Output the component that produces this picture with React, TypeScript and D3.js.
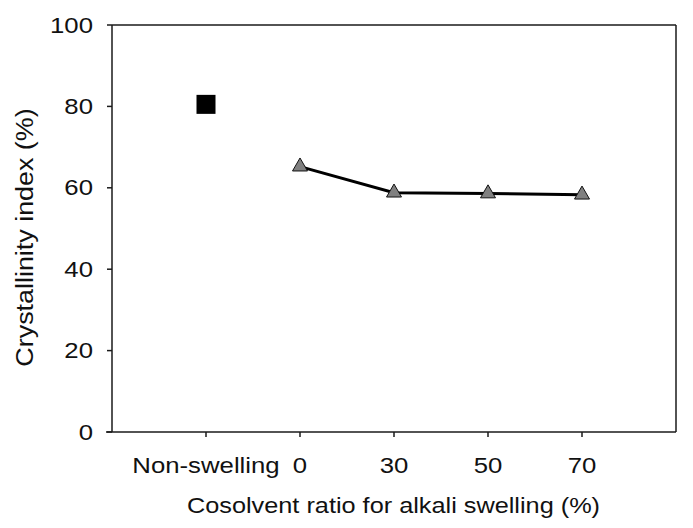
import React from "react";
import * as d3 from "d3";

const categories = ["Non-swelling", "0", "30", "50", "70"];
const nonSwellingValue = [80.5];
const swellingValues = [65.2, 58.8, 58.6, 58.3];
const yTicks = [0, 20, 40, 60, 80, 100];
const xTitle = "Cosolvent ratio for alkali swelling (%)";
const yTitle = "Crystallinity index (%)";

const W = 693;
const H = 528;
const left = 112, right = 676, top = 25, bottom = 432;
const FONT = "'Liberation Sans', Arial, sans-serif";
const SX = 1.17;

export default function App() {
  const x = d3.scaleLinear().domain([-1, 5]).range([left, right]);
  const y = d3.scaleLinear().domain([0, 100]).range([bottom, top]);

  const swellPts = swellingValues.map((v, i) => [x(i + 1), y(v)] as [number, number]);
  const line = d3.line()(swellPts) || "";

  const triW = 15, triH = 13;
  const tri = (cx: number, cy: number) => {
    const apex = cy - (2 / 3) * triH;
    const base = cy + (1 / 3) * triH;
    return `M${cx},${apex}L${cx + triW / 2},${base}L${cx - triW / 2},${base}Z`;
  };
  const sq = 19;

  return (
    <svg width={W} height={H} style={{ position: "absolute", left: 0, top: 0, background: "#fff" }}>
      <rect x={0} y={0} width={W} height={H} fill="#fff" />
      <g stroke="#1a1a1a" strokeWidth={1.5} fill="none">
        <line x1={left} y1={top} x2={left} y2={bottom} />
        <line x1={left - 6} y1={bottom} x2={right} y2={bottom} />
        <line x1={left} y1={top} x2={right} y2={top} />
        <line x1={right} y1={top} x2={right} y2={bottom} />
        {yTicks.map((t) => (
          <line key={"yt" + t} x1={left - 5} x2={left} y1={y(t)} y2={y(t)} />
        ))}
        {categories.map((c, i) => (
          <line key={"xt" + c} x1={x(i)} x2={x(i)} y1={bottom} y2={bottom + 5} />
        ))}
      </g>
      <g fontFamily={FONT} fontSize={22} fill="#111">
        {yTicks.map((t) => (
          <text key={"yl" + t} textAnchor="end" transform={`translate(93,${y(t) + 7.5}) scale(${SX},1)`}>
            {t}
          </text>
        ))}
        {categories.map((c, i) => (
          <text key={"xl" + c} textAnchor="middle" transform={`translate(${x(i)},473) scale(${SX},1)`}>
            {c}
          </text>
        ))}
        <text textAnchor="middle" transform={`translate(393.5,513) scale(1.15,1)`}>
          {xTitle}
        </text>
      </g>
      <text
        fontFamily={FONT}
        fontSize={24}
        fill="#111"
        textAnchor="middle"
        transform={`translate(33,237.5) rotate(-90) scale(1.12,1)`}
      >
        {yTitle}
      </text>
      <path d={line} stroke="#000" strokeWidth={3} fill="none" />
      {swellPts.map(([cx, cy], i) => (
        <path key={"tri" + i} d={tri(cx, cy)} fill="#808080" stroke="#111" strokeWidth={1} />
      ))}
      {nonSwellingValue.map((v, i) => (
        <rect key={"sq" + i} x={x(0) - sq / 2} y={y(v) - sq / 2} width={sq} height={sq} fill="#000" />
      ))}
    </svg>
  );
}
